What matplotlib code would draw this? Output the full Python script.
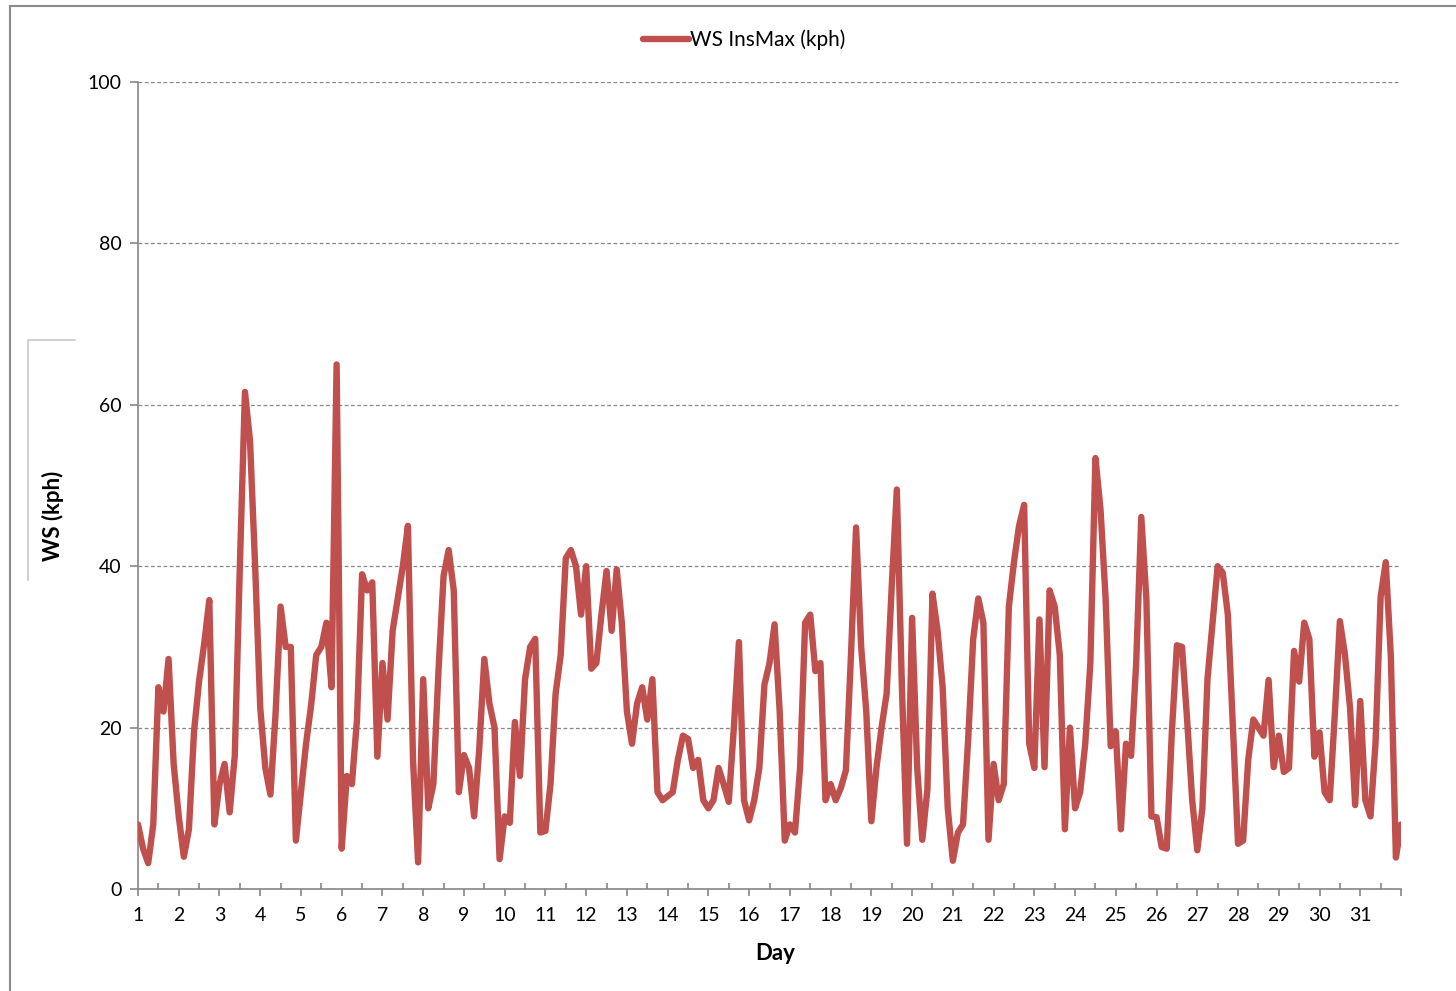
import numpy as np
import matplotlib
matplotlib.use("Agg")
import matplotlib.pyplot as plt
from matplotlib.lines import Line2D
from matplotlib.patches import Rectangle
from matplotlib.ticker import MultipleLocator

plt.rcParams['font.family'] = ['Lato', 'DejaVu Sans']

# max instantaneous wind speed, read every 3 hours (8 per day), day 1 00:00 .. day 32 00:00
samples_per_day = 8
ws_kph = [
    8, 5, 3.2, 8, 25, 22, 28.5, 15.5,          # 1
    9, 4, 7.4, 19.5, 25.8, 30.4, 35.8, 8,      # 2
    13, 15.5, 9.5, 16.5, 40, 61.6, 55.5, 40,   # 3
    22.5, 15, 11.7, 21.6, 35, 30, 30, 6,       # 4
    12, 18, 22.8, 29, 30, 33, 25, 65,          # 5
    5, 14, 13, 21, 39, 37, 38, 16.4,           # 6
    28, 21, 32, 36, 40, 45, 16, 3.3,           # 7
    26, 10, 13, 27, 38.8, 42, 37, 12,          # 8
    16.6, 15, 9, 17.3, 28.5, 23, 20, 3.7,      # 9
    9, 8.2, 20.7, 14, 26, 30, 31, 7,           # 10
    7.2, 13, 24.2, 29, 41, 42, 40, 34,         # 11
    40, 27.3, 28, 34, 39.4, 32, 39.6, 33,      # 12
    22, 18, 23, 25, 21, 26, 12, 11,            # 13
    11.5, 12, 16, 19, 18.6, 15, 16, 11,        # 14
    10, 11, 15, 13, 10.8, 20, 30.6, 11,        # 15
    8.5, 11, 15, 25.3, 28, 32.8, 22, 6,        # 16
    8, 7, 15, 33, 34, 27, 28, 11,              # 17
    13, 11, 12.5, 14.7, 29, 44.8, 30, 22,      # 18
    8.4, 15, 20, 24.2, 37.5, 49.5, 25, 5.6,    # 19
    33.6, 15, 6.1, 12.3, 36.6, 32, 25, 10,     # 20
    3.5, 7, 8, 18.4, 31, 36, 33, 6.1,          # 21
    15.5, 11, 13, 35, 40.5, 45, 47.6, 18,      # 22
    15, 33.4, 15.1, 37, 35, 29, 7.4, 20,       # 23
    10, 12, 18, 28, 53.4, 47, 36, 17.7,        # 24
    19.5, 7.4, 18, 16.5, 28, 46.1, 36, 9,      # 25
    8.9, 5.2, 5, 19.4, 30.2, 30, 21, 11,       # 26
    4.8, 10, 26, 33, 40, 39.2, 34, 20,         # 27
    5.6, 6, 16, 21, 20, 19, 25.9, 15.1,        # 28
    19, 14.5, 15, 29.5, 25.7, 33, 31, 16.4,    # 29
    19.4, 12, 11, 21.6, 33.2, 29, 22.4, 10.4,  # 30
    23.3, 11, 9, 18.1, 36.2, 40.5, 28.9, 3.9,  # 31
    8,
]
day_labels = [str(d) for d in range(1, 32)]

days = 1 + np.arange(len(ws_kph)) / samples_per_day

W, H = 1456, 991
fig = plt.figure(figsize=(W / 100, H / 100), dpi=100)
ax = fig.add_axes([138 / W, 1 - 889 / H, (1401 - 138) / W, (889 - 82) / H])

axis_grey = '#868686'
red = '#C0504D'

ax.plot(days, ws_kph, color=red, lw=4.6, solid_joinstyle='round',
        solid_capstyle='round', label='WS InsMax (kph)', zorder=3)

ax.set_xlim(1, 32)
ax.set_ylim(0, 100)
ax.set_xticks(range(1, 33))
ax.set_xticklabels(day_labels + [''])
ax.xaxis.set_minor_locator(MultipleLocator(0.5))
ax.set_yticks(range(0, 101, 20))

ax.yaxis.grid(True, color=axis_grey, ls=(0, (3, 2)), lw=0.9)
ax.set_axisbelow(True)

for s in ['top', 'right']:
    ax.spines[s].set_visible(False)
for s in ['left', 'bottom']:
    ax.spines[s].set_color(axis_grey)
    ax.spines[s].set_linewidth(1.2)

ax.tick_params(axis='x', which='major', direction='out', length=5, width=1.2,
               color=axis_grey, pad=8, labelsize=14)
ax.tick_params(axis='x', which='minor', direction='in', length=4, width=1.2,
               color=axis_grey)
ax.tick_params(axis='y', which='major', direction='out', length=6, width=1.2,
               color=axis_grey, pad=6, labelsize=14)

# axis titles placed like the original chart
fig.text(775 / W, 1 - 953 / H, 'Day', ha='center', va='center',
         fontsize=16, fontweight='bold')
fig.text(53 / W, 1 - 516 / H, 'WS (kph)', ha='center', va='center',
         rotation=90, fontsize=16, fontweight='bold')

ax.legend(loc='center', bbox_to_anchor=(744 / W, 1 - 40 / H),
          bbox_transform=fig.transFigure, frameon=False, fontsize=15,
          handlelength=2.2, handletextpad=0.05)

# chart outer border and the stray title box edge on the left
fig.add_artist(Rectangle((10 / W, -0.1), 1.2, 1 - 6 / H + 0.1, fill=False,
                         edgecolor='#8c8c8c', lw=1.5, transform=fig.transFigure))
fig.add_artist(Line2D([28 / W, 28 / W, 75 / W], [1 - 580 / H, 1 - 340 / H, 1 - 340 / H],
                      color='#c8c8c8', lw=1.2, transform=fig.transFigure))

fig.savefig('out.png', dpi=100)
